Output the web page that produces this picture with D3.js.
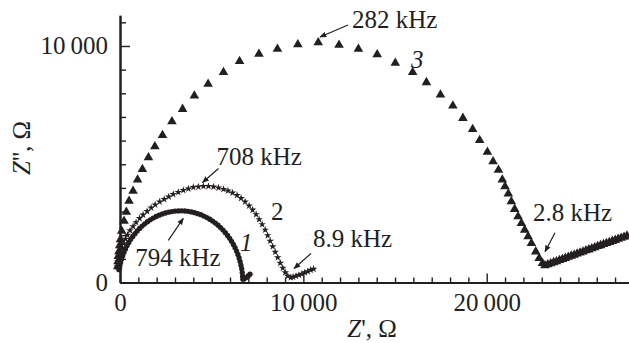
<!DOCTYPE html>
<html>
<head>
<meta charset="utf-8">
<script src="https://cdn.jsdelivr.net/npm/d3@7"></script>
<style>
  body { margin: 0; background: #fff; }
  svg { display: block; }
  text { font-family: "Liberation Serif", "Times New Roman", serif; fill: #231f20; }
</style>
</head>
<body>
<div id="chart"></div>
<script>
// curve 1 (circles), Z' and Z'' in ohm
var curve1Re = [-60, -40, -12, 33, 84, 148, 220, 298, 386, 481, 583, 696, 815, 937, 1070, 1206, 1348, 1498, 1651, 1811, 1971, 2137, 2307, 2477, 2651, 2827, 3004, 3181, 3358, 3538, 3715, 3892, 4065, 4238, 4408, 4575, 4738, 4895, 5051, 5201, 5347, 5486, 5619, 5745, 5867, 5979, 6085, 6183, 6275, 6357, 6431, 6496, 6550, 6598, 6639, 6666, 6686, 6700, 6760, 6880, 6990, 7090];
var curve1Im = [540, 610, 682, 836, 988, 1136, 1282, 1421, 1560, 1694, 1824, 1948, 2066, 2179, 2288, 2388, 2482, 2569, 2651, 2724, 2791, 2848, 2897, 2939, 2975, 3000, 3018, 3027, 3030, 3024, 3009, 2985, 2951, 2912, 2866, 2809, 2745, 2675, 2597, 2512, 2421, 2321, 2215, 2106, 1988, 1866, 1739, 1606, 1470, 1327, 1185, 1036, 885, 733, 579, 421, 264, 140, 150, 210, 280, 350];

// curve 2 (stars)
var curve2Re = [-137, -110, -55, 0, 82, 192, 301, 411, 548, 712, 877, 1068, 1260, 1479, 1699, 1918, 2164, 2411, 2658, 2904, 3178, 3452, 3726, 4000, 4274, 4548, 4822, 5096, 5370, 5644, 5890, 6137, 6384, 6603, 6822, 7041, 7233, 7425, 7589, 7753, 7918, 8055, 8192, 8329, 8466, 8603, 8740, 8877, 9014, 9151, 9315, 9440, 9600, 9760, 9920, 10080, 10240, 10400, 10560];
var curve2Im = [678, 890, 1102, 1271, 1462, 1653, 1843, 2013, 2203, 2373, 2542, 2712, 2860, 3008, 3157, 3284, 3411, 3517, 3623, 3729, 3814, 3898, 3962, 4025, 4047, 4068, 4068, 4047, 4004, 3941, 3877, 3792, 3686, 3559, 3411, 3242, 3072, 2881, 2669, 2458, 2225, 1992, 1758, 1525, 1292, 1059, 826, 614, 424, 275, 212, 233, 275, 318, 360, 424, 466, 530, 572];

// curve 3 (triangles)
var curve3Re = [-120, -110, -93, -55, -16, 27, 93, 219, 345, 493, 712, 959, 1222, 1551, 1901, 2318, 2833, 3414, 4055, 4805, 5644, 6521, 7578, 8586, 9699, 10811, 11945, 13003, 14027, 15014, 15962, 16712, 17479, 18153, 18701, 19233, 19616, 20038, 20345, 20641, 20850, 20997, 21178, 21342, 21523, 21709, 21890, 22071, 22257, 22438, 22674, 22860, 23041, 23178, 23330, 23490, 23650, 23810, 23970, 24130, 24290, 24450, 24610, 24770, 24930, 25090, 25250, 25410, 25570, 25730, 25890, 26050, 26210, 26370, 26530, 26690, 26850, 27010, 27170, 27330, 27490, 27650];
var curve3Im = [680, 890, 1114, 1314, 1568, 1822, 2174, 2597, 2979, 3445, 3869, 4343, 4788, 5284, 5750, 6229, 6809, 7331, 7894, 8390, 8886, 9352, 9661, 9873, 10064, 10148, 10042, 9873, 9640, 9280, 8886, 8462, 7936, 7470, 6949, 6483, 6017, 5521, 5114, 4758, 4343, 4059, 3750, 3424, 3102, 2788, 2508, 2225, 1941, 1661, 1305, 1025, 814, 720, 760, 800, 850, 890, 940, 985, 1030, 1075, 1125, 1165, 1215, 1255, 1300, 1350, 1390, 1440, 1480, 1530, 1570, 1615, 1660, 1705, 1750, 1790, 1840, 1880, 1925, 1970];

var xMajorTicks = [0, 10000, 20000],
    yMajorTicks = [0, 10000],
    curveNames = ["1", "2", "3"],
    freqLabels = ["794 kHz", "708 kHz", "282 kHz", "8.9 kHz", "2.8 kHz"],
    freqRe = [3452, 4500, 10908, 9490, 23180],
    freqIm = [2715, 4228, 10380, 592, 1302];

var
  WIDTH = 629,
  HEIGHT = 343,
  INK = "#231f20",
  FONT_SIZE = 25,

  svg = d3.select("#chart").append("svg")
    .attr("width", WIDTH)
    .attr("height", HEIGHT),

  x = d3.scaleLinear().domain([0, 27760]).range([120, 629]),
  y = d3.scaleLinear().domain([0, 11300]).range([282.5, 15.25]);

function groupDigits(v){
  var s = String(v);
  return s.length > 4 ? s.slice(0, -3) + "\u2009" + s.slice(-3) : s;
}

// where each frequency label's text and arrow tail sit, relative to the arrow tip
var labelLayout = [
  {tail: [-15, 22], text: [-48, 48]},
  {tail: [16, -14], text: [14, -18]},
  {tail: [28, -12], text: [32, -9]},
  {tail: [17, -15], text: [19, -21]},
  {tail: [10, -19], text: [-12, -31]}
];
var nameLayout = [
  {at: [240, 251], italic: true},
  {at: [271, 220], italic: false},
  {at: [411, 68], italic: true}
];

function drawAxes(){
  var xMinor = d3.range(1000, 27760, 1000).filter(function(v){ return xMajorTicks.indexOf(v) < 0; }),
      yMinor = d3.range(1000, 11300, 1000).filter(function(v){ return yMajorTicks.indexOf(v) < 0; });

  var gx = svg.append("g").attr("transform", "translate(0," + y(0) + ")");
  gx.call(d3.axisBottom(x).tickValues(xMinor).tickSize(-5).tickSizeOuter(0).tickFormat(""));
  gx.append("g").call(d3.axisBottom(x).tickValues(xMajorTicks).tickSize(-9).tickSizeOuter(0)
    .tickPadding(11).tickFormat(groupDigits));

  var gy = svg.append("g").attr("transform", "translate(" + x(0) + ",0)");
  gy.call(d3.axisLeft(y).tickValues(yMinor).tickSize(-6).tickSizeOuter(0).tickFormat(""));
  gy.append("g").call(d3.axisLeft(y).tickValues(yMajorTicks).tickSize(-10).tickSizeOuter(0)
    .tickPadding(12).tickFormat(groupDigits));

  svg.selectAll(".domain").attr("stroke", INK).attr("stroke-width", 2);
  svg.selectAll(".tick line").attr("stroke", INK).attr("stroke-width", 1.4);
  svg.selectAll(".tick text")
    .style("font-family", '"Liberation Serif", serif')
    .attr("font-size", FONT_SIZE)
    .attr("fill", INK);

  var xl = svg.append("text")
    .attr("x", 372).attr("y", 337)
    .attr("text-anchor", "middle")
    .attr("font-size", FONT_SIZE);
  xl.append("tspan").attr("font-style", "italic").text("Z");
  xl.append("tspan").text("', \u03A9");

  var yl = svg.append("text")
    .attr("transform", "translate(30,148) rotate(-90)")
    .attr("text-anchor", "middle")
    .attr("font-size", FONT_SIZE);
  yl.append("tspan").attr("font-style", "italic").text("Z");
  yl.append("tspan").text("'', \u03A9");
}

function drawCurve(re, im, symbolType, size){
  var shape = d3.symbol().type(symbolType).size(size);
  svg.append("g").selectAll("path")
    .data(d3.zip(re, im))
    .enter().append("path")
    .attr("d", shape)
    .attr("fill", INK)
    .attr("transform", function(d){ return "translate(" + x(d[0]) + "," + y(d[1]) + ")"; });
}

function drawLabels(){
  var defs = svg.append("defs");
  defs.append("marker")
    .attr("id", "head")
    .attr("viewBox", "0 0 10 10")
    .attr("refX", 9).attr("refY", 5)
    .attr("markerWidth", 7).attr("markerHeight", 7)
    .attr("markerUnits", "userSpaceOnUse")
    .attr("orient", "auto")
    .append("path")
    .attr("d", "M0,1 L10,5 L0,9 Z")
    .attr("fill", INK);

  freqLabels.forEach(function(label, i){
    var tx = x(freqRe[i]), ty = y(freqIm[i]), lay = labelLayout[i];
    svg.append("line")
      .attr("x1", tx + lay.tail[0]).attr("y1", ty + lay.tail[1])
      .attr("x2", tx).attr("y2", ty)
      .attr("stroke", INK).attr("stroke-width", 1.2)
      .attr("marker-end", "url(#head)");
    svg.append("text")
      .attr("x", tx + lay.text[0]).attr("y", ty + lay.text[1])
      .attr("font-size", FONT_SIZE)
      .text(label);
  });

  curveNames.forEach(function(name, i){
    svg.append("text")
      .attr("x", nameLayout[i].at[0]).attr("y", nameLayout[i].at[1])
      .attr("font-size", FONT_SIZE)
      .attr("font-style", nameLayout[i].italic ? "italic" : "normal")
      .text(name);
  });
}

drawAxes();
drawCurve(curve3Re, curve3Im, d3.symbolTriangle, 40);
drawCurve(curve2Re, curve2Im, d3.symbolStar, 18);
drawCurve(curve1Re, curve1Im, d3.symbolCircle, 22);
drawLabels();
</script>
</body>
</html>
